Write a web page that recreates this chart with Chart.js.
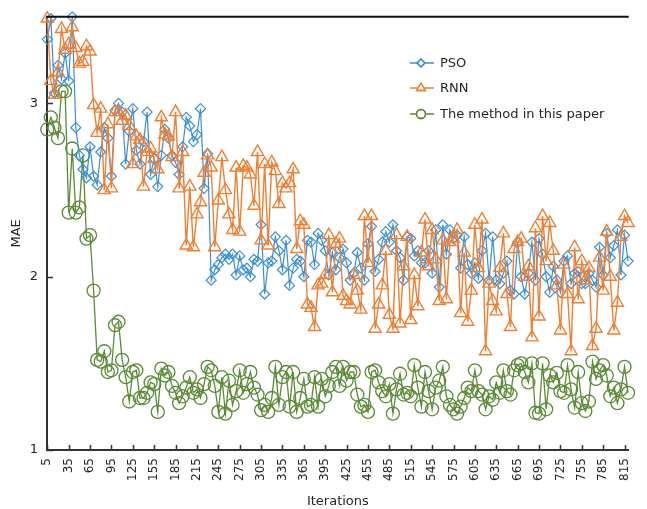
<!DOCTYPE html>
<html>
<head>
<meta charset="utf-8">
<script src="https://cdn.jsdelivr.net/npm/chart.js@4.4.1/dist/chart.umd.min.js"></script>
<style>
html,body{margin:0;padding:0;background:#fff;}
#wrap{width:647px;height:509px;position:relative;}
</style>
</head>
<body>
<div id="wrap"><canvas id="c" width="647" height="509"></canvas></div>
<script>
const iterations = [5,10,15,20,25,30,35,40,45,50,55,60,65,70,75,80,85,90,95,100,
105,110,115,120,125,130,135,140,145,150,155,160,165,170,175,180,185,190,195,200,
205,210,215,220,225,230,235,240,245,250,255,260,265,270,275,280,285,290,295,300,
305,310,315,320,325,330,335,340,345,350,355,360,365,370,375,380,385,390,395,400,
405,410,415,420,425,430,435,440,445,450,455,460,465,470,475,480,485,490,495,500,
505,510,515,520,525,530,535,540,545,550,555,560,565,570,575,580,585,590,595,600,
605,610,615,620,625,630,635,640,645,650,655,660,665,670,675,680,685,690,695,700,
705,710,715,720,725,730,735,740,745,750,755,760,765,770,775,780,785,790,795,800,
805,810,815,820];

const xTickLabels = [5,35,65,95,125,155,185,215,245,275,305,335,365,395,425,455,485,515,545,575,605,635,665,695,725,755,785,815];
const yTickLabels = [1,2,3];

const psoValues = [3.37,3.49,3.06,3.22,3.14,3.29,3.13,3.50,2.86,2.70,
2.62,2.57,2.75,2.58,2.53,2.72,2.86,2.80,2.58,2.96,
3.00,2.95,2.65,2.84,2.97,2.73,2.65,2.78,2.95,2.59,
2.68,2.52,2.70,2.85,2.80,2.70,2.66,2.59,2.75,2.92,
2.87,2.78,2.82,2.97,2.51,2.71,1.98,2.04,2.07,2.11,
2.13,2.10,2.13,2.01,2.12,2.04,2.05,2.00,2.10,2.09,
2.30,1.90,2.08,2.09,2.23,2.15,2.04,2.21,1.95,2.05,
2.10,2.09,2.00,2.21,2.20,2.07,2.25,2.21,2.15,2.01,
2.14,2.04,2.11,2.16,2.08,1.98,2.02,2.14,2.05,1.98,
2.19,2.29,2.03,2.10,2.20,2.26,2.20,2.30,2.15,2.11,
1.98,2.23,2.22,2.12,2.15,2.08,2.08,2.15,2.02,2.27,
1.94,2.30,2.13,2.27,2.22,2.24,2.05,2.23,2.07,2.02,
2.08,1.99,2.15,2.25,1.98,2.23,1.98,1.96,2.02,2.09,
1.92,1.90,2.20,2.00,1.90,2.02,2.20,1.98,2.22,2.13,
2.00,1.91,2.06,1.98,1.91,2.09,2.12,1.96,2.02,2.03,
1.96,1.96,2.02,1.98,1.94,2.17,2.01,2.25,2.11,2.18,
2.27,2.01,2.24,2.09];

const rnnValues = [3.49,3.13,3.05,3.18,3.43,3.31,3.34,3.44,3.32,3.23,
3.24,3.33,3.30,2.99,2.83,2.97,2.50,2.88,2.51,2.95,
2.95,2.90,2.93,2.87,2.65,2.81,2.79,2.52,2.72,2.74,
2.68,2.62,2.92,2.82,2.81,2.69,2.95,2.51,2.72,2.18,
2.52,2.17,2.36,2.43,2.60,2.70,2.63,2.17,2.44,2.69,
2.50,2.36,2.27,2.63,2.26,2.64,2.63,2.59,2.41,2.72,
2.21,2.65,2.18,2.66,2.61,2.42,2.54,2.51,2.54,2.62,
2.16,2.32,2.30,1.84,1.82,1.71,1.95,1.96,2.01,2.24,
1.91,2.19,2.22,1.89,1.86,1.84,2.01,1.92,1.81,2.35,
2.08,2.35,1.70,1.84,1.95,2.15,1.78,1.70,2.24,1.73,
2.06,2.23,1.75,2.01,1.83,2.14,2.33,2.06,2.27,2.10,
1.86,2.21,1.87,2.20,2.22,2.27,1.79,2.14,1.74,1.92,
2.30,2.05,2.33,1.57,1.96,1.86,1.80,2.05,2.25,1.90,
1.71,2.16,2.20,2.22,2.00,2.06,1.65,2.28,1.77,2.35,
2.09,2.31,2.15,1.95,1.69,2.07,1.90,1.57,2.17,1.87,
2.09,1.98,2.05,1.60,1.70,2.11,1.92,2.26,2.00,1.69,
1.85,2.23,2.35,2.31];

const methodValues = [2.85,2.92,2.86,2.80,3.07,3.07,2.37,2.74,2.37,2.40,
2.70,2.22,2.24,1.92,1.52,1.51,1.57,1.45,1.46,1.72,
1.74,1.52,1.42,1.28,1.45,1.46,1.30,1.30,1.33,1.39,
1.38,1.22,1.47,1.43,1.45,1.37,1.33,1.27,1.31,1.36,
1.42,1.33,1.35,1.30,1.38,1.48,1.46,1.37,1.22,1.42,
1.21,1.40,1.26,1.34,1.46,1.33,1.38,1.45,1.36,1.32,
1.23,1.26,1.22,1.30,1.48,1.26,1.42,1.45,1.25,1.45,
1.22,1.30,1.41,1.25,1.26,1.42,1.25,1.41,1.31,1.37,
1.45,1.48,1.37,1.48,1.40,1.45,1.45,1.32,1.25,1.26,
1.22,1.45,1.46,1.39,1.34,1.31,1.38,1.21,1.35,1.44,
1.32,1.33,1.31,1.49,1.36,1.25,1.45,1.34,1.235,1.36,
1.40,1.48,1.31,1.26,1.235,1.21,1.25,1.30,1.36,1.34,
1.46,1.34,1.32,1.235,1.31,1.29,1.39,1.33,1.46,1.34,
1.32,1.46,1.49,1.50,1.45,1.39,1.50,1.215,1.21,1.50,
1.235,1.43,1.39,1.445,1.34,1.33,1.49,1.35,1.245,1.45,
1.27,1.225,1.28,1.51,1.41,1.46,1.49,1.43,1.31,1.36,
1.27,1.35,1.48,1.33];

const seriesNames = ['PSO','RNN','The method in this paper'];
const colors = {pso:'#3a8fd8', rnn:'#ef7f33', method:'#5a8a36'};

function toPoints(vals){ return vals.map((v,i)=>({x: iterations[i], y: v})); }

const FONT = 'DejaVu Sans';
const TEXT = '#262626';

const framePlugin = {
  id: 'frame',
  afterDraw(chart){
    const {ctx, chartArea:a, scales} = chart;
    ctx.save();
    ctx.strokeStyle = '#111';
    ctx.lineWidth = 2;
    ctx.beginPath();
    ctx.moveTo(a.left - 1, a.top);
    ctx.lineTo(a.right, a.top);
    ctx.stroke();
    // inward tick marks
    ctx.strokeStyle = '#333';
    ctx.lineWidth = 1.5;
    scales.x.ticks.forEach(t => {
      const px = Math.round(scales.x.getPixelForValue(t.value)) + 0.5;
      ctx.beginPath(); ctx.moveTo(px, a.bottom); ctx.lineTo(px, a.bottom - 5); ctx.stroke();
    });
    scales.y.ticks.forEach(t => {
      const py = Math.round(scales.y.getPixelForValue(t.value)) + 0.5;
      ctx.beginPath(); ctx.moveTo(a.left, py); ctx.lineTo(a.left + 6, py); ctx.stroke();
    });
    // legend
    const items = chart.data.datasets.slice().sort((p,q)=>p.legendIndex-q.legendIndex);
    const lx = 410, ly = [63, 88, 114];
    items.forEach((ds, i) => {
      const y = ly[i];
      ctx.strokeStyle = ds.borderColor;
      ctx.lineWidth = 1.5;
      ctx.beginPath(); ctx.moveTo(lx, y); ctx.lineTo(lx + 24, y); ctx.stroke();
      Chart.helpers.drawPoint(ctx, {pointStyle: ds.pointStyle, rotation: 0, borderWidth: 1.3}, lx + 11, y);
      ctx.lineWidth = 1.3;
      ctx.fillStyle = '#fff';
      const r = ds.legendRadius;
      Chart.helpers.drawPoint(ctx, {pointStyle: ds.pointStyle, rotation: 0, borderWidth: 1.3, radius: r}, lx + 11, y);
      ctx.stroke();
      ctx.fillStyle = TEXT;
      ctx.font = '13px "' + FONT + '"';
      ctx.textBaseline = 'middle';
      ctx.textAlign = 'left';
      ctx.fillText(ds.label, lx + 30, y + 0.5);
    });
    ctx.restore();
  }
};

new Chart(document.getElementById('c'), {
  type: 'line',
  data: {
    datasets: [
      {label: seriesNames[0], data: toPoints(psoValues), borderColor: colors.pso, backgroundColor: 'rgba(255,255,255,0)',
       borderWidth: 1.2, pointStyle: 'rectRot', pointRadius: 5, pointBorderWidth: 1.2, pointBackgroundColor: 'rgba(255,255,255,0)',
       order: 1, legendIndex: 0, legendRadius: 4, clip: false, tension: 0},
      {label: seriesNames[1], data: toPoints(rnnValues), borderColor: colors.rnn, backgroundColor: 'rgba(255,255,255,0)',
       borderWidth: 1.4, pointStyle: 'triangle', pointRadius: 7, pointBorderWidth: 1.4, pointBackgroundColor: 'rgba(255,255,255,0)',
       order: 0, legendIndex: 1, legendRadius: 5, clip: false, tension: 0},
      {label: seriesNames[2], data: toPoints(methodValues), borderColor: colors.method, backgroundColor: 'rgba(255,255,255,0)',
       borderWidth: 1.3, pointStyle: 'circle', pointRadius: 6.5, pointBorderWidth: 1.3, pointBackgroundColor: 'rgba(255,255,255,0)',
       order: 2, legendIndex: 2, legendRadius: 4.5, clip: false, tension: 0}
    ]
  },
  options: {
    responsive: false,
    animation: false,
    layout: {padding: {top: 15, right: 0, left: 0, bottom: 0}},
    plugins: {legend: {display: false}, tooltip: {enabled: false}},
    scales: {
      x: {
        type: 'linear', min: 4.6, max: 820.9,
        afterBuildTicks: s => { s.ticks = xTickLabels.map(v => ({value: v})); },
        afterFit: s => { s.height = 59; },
        grid: {display: false, drawTicks: false},
        border: {display: true, color: '#333', width: 2},
        ticks: {autoSkip: false, minRotation: 90, maxRotation: 90, padding: 8,
                color: TEXT, font: {family: FONT, size: 12},
                callback: v => String(v)},
        title: {display: true, text: 'Iterations', color: TEXT, font: {family: FONT, size: 13}, padding: {top: 0, bottom: 0}}
      },
      y: {
        type: 'linear', min: 1, max: 3.5,
        afterBuildTicks: s => { s.ticks = yTickLabels.map(v => ({value: v})); },
        afterFit: s => { s.width = 47; },
        grid: {display: false, drawTicks: false},
        border: {display: true, color: '#333', width: 2},
        ticks: {padding: 9, color: TEXT, font: {family: FONT, size: 13}, callback: v => String(v)},
        title: {display: true, text: 'MAE', color: TEXT, font: {family: FONT, size: 13}, padding: {top: 9, bottom: 0}}
      }
    }
  },
  plugins: [framePlugin]
});
</script>
</body>
</html>
